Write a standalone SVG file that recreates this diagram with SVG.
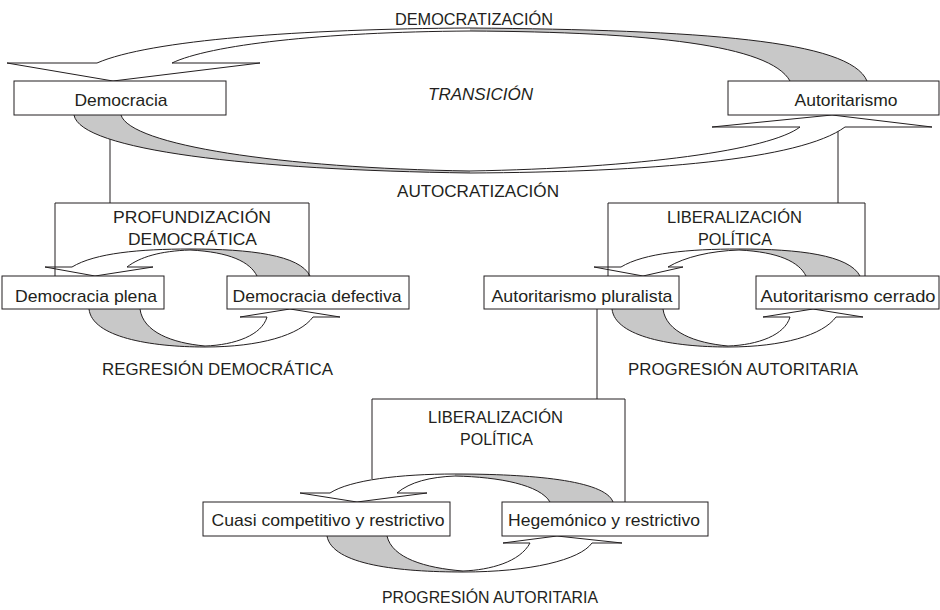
<svg xmlns="http://www.w3.org/2000/svg" width="940" height="610" viewBox="0 0 940 610">
<style>
  .bg { fill: #ffffff; }
  .box { fill: #ffffff; stroke: #231f20; stroke-width: 1; }
  .bracket { fill: none; stroke: #231f20; stroke-width: 1; }
  .link { fill: none; stroke: #231f20; stroke-width: 1; }
  .ribbon-line { fill: none; stroke: #231f20; stroke-width: 1; stroke-linejoin: miter; }
  .ribbon-gray { fill: #c8c8c8; stroke: none; }
  .ribbon-white { fill: #ffffff; stroke: none; }
  .node-text { font-family: "Liberation Sans", Arial, sans-serif; font-size: 17px; fill: #231f20; text-anchor: middle; }
  .label { font-family: "Liberation Sans", Arial, sans-serif; font-size: 16px; fill: #231f20; }
  .italic { font-style: italic; }
</style>
<rect class="bg" x="0" y="0" width="940" height="610"/>

<g id="connectors">
  <path class="link" d="M 110,115 V 203"/>
  <path class="link" d="M 838,127 V 203"/>
  <path class="link" d="M 597,309 V 399"/>

  <!-- DEMOCRATIZACIÓN ribbon (Autoritarismo -> Democracia) -->
  <path class="ribbon-white" d="M 470,28 C 300,29 150,40 97,63 L 7,63 L 113,81 L 260,63 L 172,63 C 210,45 320,32 470,31 Z"/>
  <path class="ribbon-gray" d="M 867,81 C 850,40 700,30 470,28 L 470,31 C 650,32 770,45 790,81 Z"/>
  <path class="ribbon-line" d="M 867,81 C 850,40 700,30 470,28 C 300,29 150,40 97,63 L 7,63 L 113,81 L 260,63 L 172,63 C 210,45 320,32 470,31 C 650,32 770,45 790,81"/>

  <!-- AUTOCRATIZACIÓN ribbon (Democracia -> Autoritarismo) -->
  <path class="ribbon-white" d="M 470,173 C 650,172 800,160 845,127 L 932,127 L 832,115 L 712,127 L 800,127 C 770,150 640,168 470,171 Z"/>
  <path class="ribbon-gray" d="M 74,115 C 80,150 250,170 470,173 L 470,171 C 280,168 130,145 121,115 Z"/>
  <path class="ribbon-line" d="M 74,115 C 80,150 250,170 470,173 C 650,172 800,160 845,127 L 932,127 L 832,115 L 712,127 L 800,127 C 770,150 640,168 470,171 C 280,168 130,145 121,115"/>

  <!-- Left cycle: top (defectiva -> plena) -->
  <path class="ribbon-white" d="M 190,249 C 140,249 95,253 72,267 L 45,267 L 95,276 L 153,267 L 127,267 C 140,257 160,251 190,250 Z"/>
  <path class="ribbon-gray" d="M 310,276 C 300,255 250,249 190,249 L 190,250 C 230,252 250,262 257,276 Z"/>
  <path class="ribbon-line" d="M 310,276 C 300,255 250,249 190,249 C 140,249 95,253 72,267 L 45,267 L 95,276 L 153,267 L 127,267 C 140,257 160,251 190,250 C 230,252 250,262 257,276"/>
  <!-- Left cycle: bottom (plena -> defectiva) -->
  <path class="ribbon-white" d="M 205,347 C 260,347 300,335 313,317 L 340,317 L 290,309 L 240,317 L 267,317 C 262,335 235,345 205,346 Z"/>
  <path class="ribbon-gray" d="M 89,309 C 92,337 150,347 205,347 L 205,346 C 172,343 143,332 140,309 Z"/>
  <path class="ribbon-line" d="M 89,309 C 92,337 150,347 205,347 C 260,347 300,335 313,317 L 340,317 L 290,309 L 240,317 L 267,317 C 262,335 235,345 205,346 C 172,343 143,332 140,309"/>

  <!-- Right cycle: top (cerrado -> pluralista) -->
  <path class="ribbon-white" d="M 739,249 C 689,249 644,253 621,267 L 594,267 L 643,276 L 683,267 L 668,267 C 685,257 710,251 739,250 Z"/>
  <path class="ribbon-gray" d="M 860,276 C 849,255 799,249 739,249 L 739,250 C 779,252 799,262 806,276 Z"/>
  <path class="ribbon-line" d="M 860,276 C 849,255 799,249 739,249 C 689,249 644,253 621,267 L 594,267 L 643,276 L 683,267 L 668,267 C 685,257 710,251 739,250 C 779,252 799,262 806,276"/>
  <!-- Right cycle: bottom (pluralista -> cerrado) -->
  <path class="ribbon-white" d="M 728,347 C 783,347 823,335 836,317 L 863,317 L 813,309 L 763,317 L 790,317 C 785,335 758,345 728,346 Z"/>
  <path class="ribbon-gray" d="M 612,309 C 615,337 673,347 728,347 L 728,346 C 695,343 666,332 663,309 Z"/>
  <path class="ribbon-line" d="M 612,309 C 615,337 673,347 728,347 C 783,347 823,335 836,317 L 863,317 L 813,309 L 763,317 L 790,317 C 785,335 758,345 728,346 C 695,343 666,332 663,309"/>

  <!-- Bottom cycle: top (hegemónico -> cuasi) -->
  <path class="ribbon-white" d="M 455,474 C 400,474 350,480 330,493 L 300,493 L 357,502 L 427,493 L 397,493 C 410,482 430,477 455,476 Z"/>
  <path class="ribbon-gray" d="M 613,502 C 605,480 530,474 455,474 L 455,476 C 500,477 540,485 550,502 Z"/>
  <path class="ribbon-line" d="M 613,502 C 605,480 530,474 455,474 C 400,474 350,480 330,493 L 300,493 L 357,502 L 427,493 L 397,493 C 410,482 430,477 455,476 C 500,477 540,485 550,502"/>
  <!-- Bottom cycle: bottom (cuasi -> hegemónico) -->
  <path class="ribbon-white" d="M 463,572 C 530,572 580,560 592,543 L 622,543 L 557,536 L 503,543 L 530,543 C 520,562 490,570 463,571 Z"/>
  <path class="ribbon-gray" d="M 327,536 C 332,565 400,572 463,572 L 463,571 C 425,568 392,558 387,536 Z"/>
  <path class="ribbon-line" d="M 327,536 C 332,565 400,572 463,572 C 530,572 580,560 592,543 L 622,543 L 557,536 L 503,543 L 530,543 C 520,562 490,570 463,571 C 425,568 392,558 387,536"/>
</g>

<g id="profundizacion">
  <path class="bracket" d="M 55,276 V 203 H 309 V 276"/>
  <text class="label" x="113" y="223" textLength="158" lengthAdjust="spacingAndGlyphs">PROFUNDIZACIÓN</text>
  <text class="label" x="128" y="245" textLength="129" lengthAdjust="spacingAndGlyphs">DEMOCRÁTICA</text>
</g>
<g id="liberalizacion-1">
  <path class="bracket" d="M 608,276 V 203 H 865 V 276"/>
  <text class="label" x="667" y="223" textLength="135" lengthAdjust="spacingAndGlyphs">LIBERALIZACIÓN</text>
  <text class="label" x="698" y="245" textLength="74" lengthAdjust="spacingAndGlyphs">POLÍTICA</text>
</g>
<g id="liberalizacion-2">
  <path class="bracket" d="M 372,479 V 399 H 625 V 502"/>
  <text class="label" x="428" y="423" textLength="135" lengthAdjust="spacingAndGlyphs">LIBERALIZACIÓN</text>
  <text class="label" x="460" y="445" textLength="73" lengthAdjust="spacingAndGlyphs">POLÍTICA</text>
</g>

<g id="democracia">
  <rect class="box" x="14" y="81" width="212" height="34"/>
  <text class="node-text" x="121" y="106" textLength="93" lengthAdjust="spacingAndGlyphs">Democracia</text>
</g>
<g id="autoritarismo">
  <rect class="box" x="728" y="81" width="211" height="34"/>
  <text class="node-text" x="846" y="106" textLength="103" lengthAdjust="spacingAndGlyphs">Autoritarismo</text>
</g>
<g id="democracia-plena">
  <rect class="box" x="2" y="276" width="162" height="33"/>
  <text class="node-text" x="86" y="302" textLength="142" lengthAdjust="spacingAndGlyphs">Democracia plena</text>
</g>
<g id="democracia-defectiva">
  <rect class="box" x="227" y="276" width="182" height="33"/>
  <text class="node-text" x="317" y="302" textLength="169" lengthAdjust="spacingAndGlyphs">Democracia defectiva</text>
</g>
<g id="autoritarismo-pluralista">
  <rect class="box" x="484" y="276" width="195" height="33"/>
  <text class="node-text" x="582" y="302" textLength="181" lengthAdjust="spacingAndGlyphs">Autoritarismo pluralista</text>
</g>
<g id="autoritarismo-cerrado">
  <rect class="box" x="756" y="276" width="183" height="33"/>
  <text class="node-text" x="848" y="302" textLength="175" lengthAdjust="spacingAndGlyphs">Autoritarismo cerrado</text>
</g>
<g id="cuasi-competitivo">
  <rect class="box" x="203" y="502" width="247" height="34"/>
  <text class="node-text" x="328" y="526" textLength="233" lengthAdjust="spacingAndGlyphs">Cuasi competitivo y restrictivo</text>
</g>
<g id="hegemonico">
  <rect class="box" x="502" y="502" width="206" height="34"/>
  <text class="node-text" x="604" y="526" textLength="192" lengthAdjust="spacingAndGlyphs">Hegemónico y restrictivo</text>
</g>

<g id="labels">
  <text class="label" x="395" y="25" textLength="158" lengthAdjust="spacingAndGlyphs">DEMOCRATIZACIÓN</text>
  <text class="label italic" x="428" y="100" textLength="105" lengthAdjust="spacingAndGlyphs">TRANSICIÓN</text>
  <text class="label" x="397" y="197" textLength="162" lengthAdjust="spacingAndGlyphs">AUTOCRATIZACIÓN</text>
  <text class="label" x="102" y="375" textLength="231" lengthAdjust="spacingAndGlyphs">REGRESIÓN DEMOCRÁTICA</text>
  <text class="label" x="628" y="375" textLength="230" lengthAdjust="spacingAndGlyphs">PROGRESIÓN AUTORITARIA</text>
  <text class="label" x="382" y="603" textLength="216" lengthAdjust="spacingAndGlyphs">PROGRESIÓN AUTORITARIA</text>
</g>
</svg>
